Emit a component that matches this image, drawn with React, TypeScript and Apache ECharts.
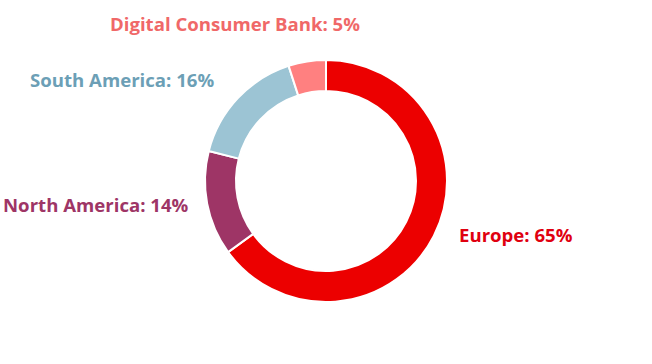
import React, { useEffect, useRef } from "react";
import * as echarts from "echarts";

const categories = ["Europe", "North America", "South America", "Digital Consumer Bank"];
const shares = [65, 14, 16, 5];
const sliceColors = ["#EC0000", "#9E3566", "#9CC4D4", "#FF8080"];
const labelColors = ["#E00010", "#9E3566", "#6C9FB6", "#F06868"];
// label anchor [x, y, align]
const labelAnchors: [number, number, string][] = [
  [459, 234, "left"],
  [3, 204, "left"],
  [30, 79, "left"],
  [110, 23, "left"],
];

export default function App() {
  const ref = useRef<HTMLDivElement>(null);
  useEffect(() => {
    if (!ref.current) return;
    const chart = echarts.init(ref.current, null, { renderer: "svg" });
    chart.setOption({
      animation: false,
      series: [
        {
          type: "pie",
          center: [326, 181],
          radius: [90, 121],
          startAngle: 90,
          clockwise: true,
          avoidLabelOverlap: false,
          itemStyle: { borderColor: "#ffffff", borderWidth: 2 },
          label: {
            show: true,
            position: "outside",
            formatter: "{b}: {c}%",
            fontFamily: "Open Sans",
            fontWeight: "bold",
            fontSize: 18.6,
          },
          labelLine: { show: false },
          labelLayout: (params: any) => {
            const a = labelAnchors[params.dataIndex];
            return { x: a[0], y: a[1], align: a[2], verticalAlign: "middle" };
          },
          data: categories.map((name, i) => ({
            name,
            value: shares[i],
            itemStyle: { color: sliceColors[i] },
            label: { color: labelColors[i] },
          })),
        },
      ],
    });
    return () => chart.dispose();
  }, []);
  return <div ref={ref} style={{ width: 652, height: 364, position: "absolute", left: 0, top: 0 }} />;
}
